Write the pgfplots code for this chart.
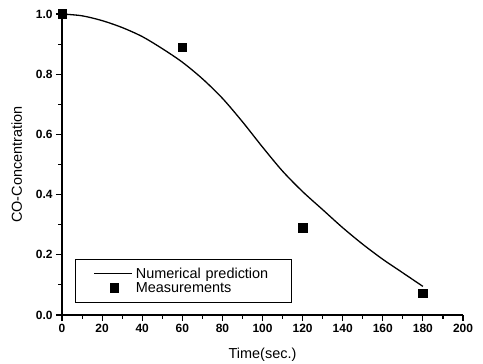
\documentclass[border=0pt]{standalone}
\usepackage{pgfplots}
\pgfplotsset{compat=1.18}
\usepackage{fontspec}
\setmainfont{Liberation Sans}
\pgfplotsset{
  mylineimg/.style={legend image code/.code={\path[draw=none] (-17bp,0cm) -- (40bp,0cm);\draw[##1] (0cm,0cm) -- (38bp,0cm);}},
  mymarkimg/.style={legend image code/.code={\path[draw=none] (-17bp,0cm) -- (40bp,0cm);\draw[##1] plot coordinates {(20bp,0cm)};}},
}
\begin{document}
\begin{tikzpicture}
\begin{axis}[
  scale only axis, width=401bp, height=301bp,
  xmin=0, xmax=200, ymin=0, ymax=1.0,
  axis lines=left, axis line style={-, line width=1.3bp},
  xtick={0,20,...,200}, ytick={0,0.2,...,1.0},
  minor x tick num=1, minor y tick num=1,
  tick align=outside, major tick length=6bp, minor tick length=3.5bp,
  every tick/.style={black, line width=1.1bp},
  /pgf/number format/assume math mode=true,
  yticklabel style={/pgf/number format/fixed, /pgf/number format/fixed zerofill, /pgf/number format/precision=1, font=\fontsize{12}{13}\selectfont\bfseries},
  xticklabel style={font=\fontsize{12}{13}\selectfont\bfseries},
  xticklabel={\pgfmathprintnumber[fixed,precision=0]{\tick}},
  xlabel={Time(sec.)}, ylabel={CO-Concentration},
  label style={font=\fontsize{14.5}{16}\selectfont},
  xlabel style={yshift=-8bp},
  ylabel style={yshift=7bp},
  clip=false,
  legend style={at={(0.032,0.04)}, anchor=south west, draw=black, line width=1bp,
    font=\fontsize{14.5}{17}\selectfont, inner xsep=2bp, inner ysep=7bp,
    nodes={inner sep=1.5bp}, cells={anchor=west}, text width=152bp},
]
\addplot[black, line width=1.3bp, smooth, no marks, mylineimg] coordinates {
(0,1.0) (10,0.994) (20,0.978) (30,0.955) (40,0.925) (50,0.885) (60,0.84)
(70,0.785) (80,0.72) (90,0.642) (100,0.558) (110,0.478) (120,0.41)
(130,0.35) (140,0.29) (150,0.235) (160,0.185) (170,0.14) (180,0.095)};
\addlegendentry{Numerical prediction}
\addplot[only marks, mark=square*, mark size=4.3bp, black, mymarkimg] coordinates {
(0,1.0) (60,0.89) (120,0.29) (180,0.072)};
\addlegendentry{Measurements}
\end{axis}
\pgfresetboundingbox
\path[use as bounding box] ([shift={(-62bp,-49bp)}]current axis.south west) rectangle ([shift={(20bp,14bp)}]current axis.north east);
\end{tikzpicture}
\end{document}
